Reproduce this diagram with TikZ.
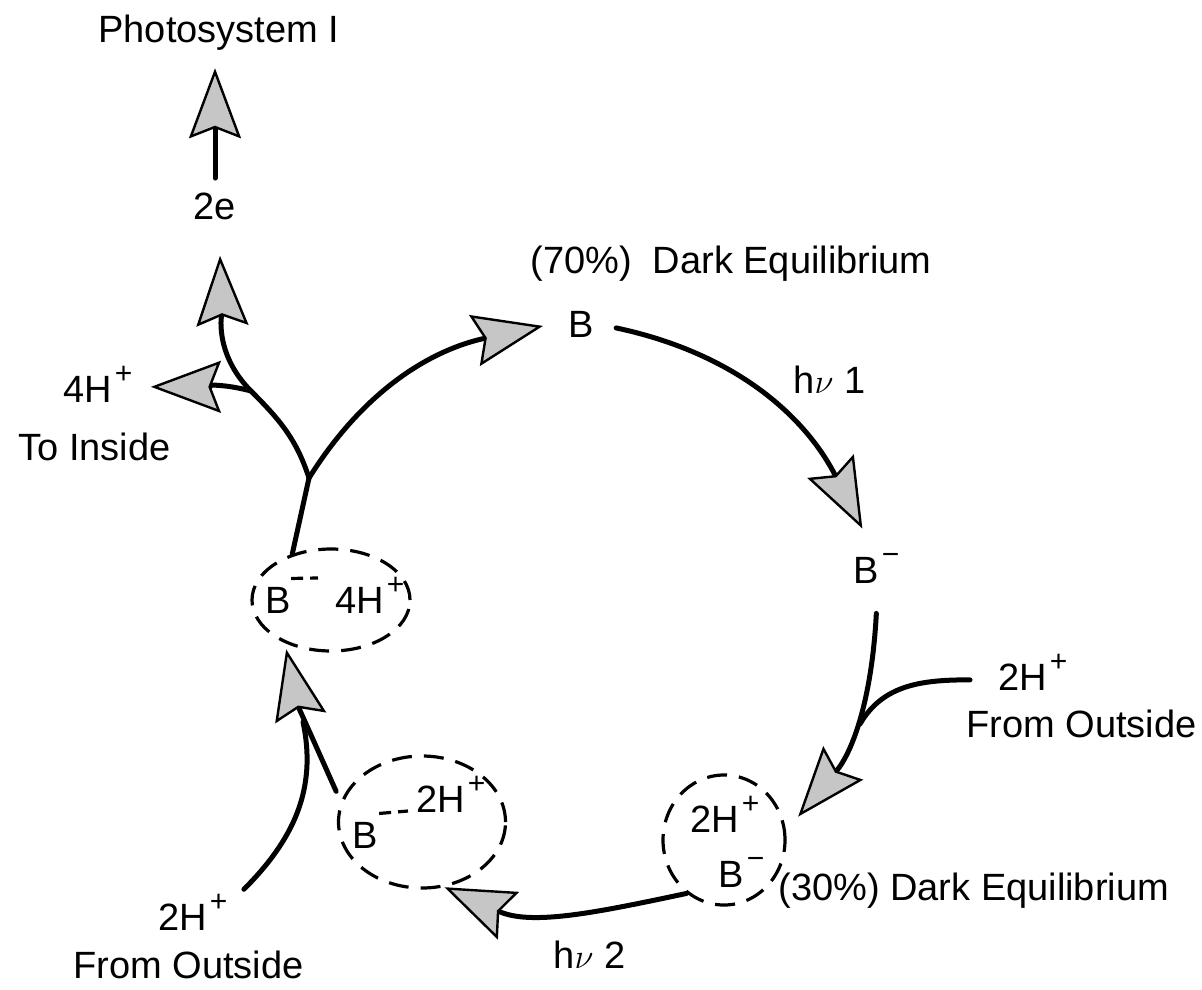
\documentclass[tikz,border=0pt]{standalone}
\usepackage{fontspec}
\setmainfont{Liberation Sans}
\usetikzlibrary{arrows.meta,shapes.geometric,positioning}
\newcommand{\ionsup}[1]{\hspace{1.5pt}\raisebox{9.5pt}{\fontsize{15}{15}\selectfont #1}}

\begin{document}
\begin{tikzpicture}[x=0.5pt,y=-0.5pt,
    font=\fontsize{19}{23}\selectfont,
    lbl/.style={anchor=base west,inner sep=0pt},
    blob/.style={draw,ellipse,inner sep=0pt,line width=1.6pt,dash pattern=on 10pt off 6pt},
    bond/.style={line width=1.6pt,dash pattern=on 6pt off 3.5pt},
    shaft/.style={line width=2.5pt,line cap=round},
    flow/.style={shaft,-{Stealth[length=35pt,width=26pt,inset=5pt,fill=gray!45,line width=1.2pt]}}
]
    \useasboundingbox (0,0) rectangle (1202,989);

    % labels
    \node[lbl] (ps) at (98,43) {Photosystem I};
    \node[lbl,anchor=base] (e2) at (215,220) {2e};
    \node[lbl] (h4) at (63,402) {4H\ionsup{+}};
    \node[lbl] (toin) at (18,460) {To Inside};
    \node[lbl] (eq70) at (530,273) {(70\%)\ \ Dark Equilibrium};
    \node[lbl] (btop) at (568,337) {B};
    \node[lbl] (hv1) at (793,393) {h$\nu$ 1};
    \node[lbl] (bm) at (853,583) {B\ionsup{−}};
    \node[lbl] (h2r) at (998,690) {2H\ionsup{+}};
    \node[lbl] (outr) at (966,737) {From Outside};
    \node[lbl] (rch) at (690,832) {2H\ionsup{+}};
    \node[lbl] (rcb) at (718,887) {B\ionsup{−}};
    \node[lbl] (eq30) at (778,900) {(30\%) Dark Equilibrium};
    \node[lbl] (hv2) at (553,968) {h$\nu$ 2};
    \node[lbl] (lcb) at (352,848) {B};
    \node[lbl] (lch) at (416,812) {2H\ionsup{+}};
    \node[lbl] (h2l) at (158,930) {2H\ionsup{+}};
    \node[lbl] (outl) at (73,978) {From Outside};
    \node[lbl] (elb) at (265,613) {B};
    \node[lbl] (elh) at (335,613) {4H\ionsup{+}};

    % complexes
    \node[blob,minimum width=79pt,minimum height=51pt] (ell) at (331,600) {};
    \node[blob,minimum width=83.5pt,minimum height=66pt] (lc) at (422,822) {};
    \node[blob,minimum width=61pt,minimum height=65pt] (rc) at (724,840) {};
    \draw[bond] ([yshift=4pt]elb.north east) -- ([xshift=-8.5pt,yshift=17.5pt]elh.base west);
    \draw[bond] ([xshift=0.5pt,yshift=4pt]lcb.north east) -- ([xshift=-4pt,yshift=0.5pt]lch.base west);

    \coordinate (fk) at (309,478);
    \coordinate (sp) at (251,391);
    \coordinate (j1) at (303,722);
    \coordinate (j2) at (860,724);

    % release of 4H+ and 2e
    \draw[flow] ([yshift=7.5pt]e2.north) -- ([yshift=-8.5pt]e2.north |- ps.south);
    \draw[shaft] (ell.130) -- (fk);
    \draw[shaft] (fk) to[out=108,in=-45] (sp);
    \draw[flow] (sp) to[out=135,in=-88] ([xshift=2.5pt,yshift=-17.5pt]e2.south);
    \draw[flow] (sp) to[out=165,in=0] ([xshift=9pt,yshift=-1.5pt]h4.east);
    \draw[flow] (fk) to[out=58,in=192] ([xshift=-12.5pt,yshift=-1pt]btop.west);

    % cycle
    \draw[flow] ([xshift=11pt,yshift=-2pt]btop.east) to[out=-12,in=117] ([xshift=-7pt,yshift=12pt]bm.north);
    \draw[flow] ([yshift=-15pt]bm.south) to[out=-93,in=50] ([xshift=7pt,yshift=2.5pt]rc.17);
    \draw[shaft] ([xshift=-14pt,yshift=-4pt]h2r.west) to[out=180,in=60] (j2);
    \draw[flow] (rc.235) to[out=192,in=-24] (lc.289);
    \draw[flow] ([xshift=-5pt]lc.158) to[out=114,in=-78] ([xshift=-2pt,yshift=-2pt]ell.228);
    \draw[shaft] ([xshift=8pt,yshift=2pt]h2l.north east) to[out=45,in=-78] (j1);
\end{tikzpicture}
\end{document}
